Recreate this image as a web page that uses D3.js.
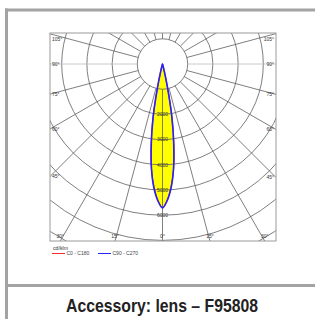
<!DOCTYPE html>
<html>
<head>
<meta charset="utf-8">
<script src="https://cdn.jsdelivr.net/npm/d3@7"></script>
<style>
  body { margin: 0; background: #fff; }
  text { font-family: "Liberation Sans", Arial, sans-serif; }
</style>
</head>
<body>
<svg id="chart" width="315" height="319"></svg>
<script>
// luminous intensity in cd/klm (gamma 0 = straight down)
var gammaAngles = [0, 2, 4, 6, 8, 10, 12, 14, 16, 18];
var c0c180  = [5700, 5400, 4880, 4200, 3250, 2200, 1000, 300, 60, 0];
var c90c270 = [5710, 5420, 4920, 4180, 3200, 2150, 950, 270, 50, 0];

var ringValues  = [1000, 2000, 3000, 4000, 5000, 6000, 7000, 8000, 9000];
var ringLabels  = [2000, 3000, 4000, 5000, 6000];
var spokeAngles = [0, 15, 30, 45, 60, 75, 90, 105, 120, 135, 150, 165, 180];
var angleLabels = [0, 15, 30, 45, 60, 75, 90, 105];
var seriesNames  = ["C0 - C180", "C90 - C270"];
var seriesColors = ["#ff2a2a", "#2323ff"];
var unitLabel = "cd/klm";
var caption = "Accessory: lens \u2013 F95808";

var svg = d3.select("#chart");

// outer box of the card
svg.append("line").attr("x1", 5).attr("x2", 315).attr("y1", 10).attr("y2", 10)
  .attr("stroke", "#a3a3a3").attr("stroke-width", 3);
svg.append("line").attr("x1", 6.5).attr("x2", 6.5).attr("y1", 8.5).attr("y2", 319)
  .attr("stroke", "#a3a3a3").attr("stroke-width", 3);
svg.append("line").attr("x1", 5).attr("x2", 315).attr("y1", 285.5).attr("y2", 285.5)
  .attr("stroke", "#a3a3a3").attr("stroke-width", 3);

// plot frame
var fx0 = 50, fy0 = 33, fx1 = 276, fy1 = 241;
var cx = 162.5, cy = 64;
var r = d3.scaleLinear().domain([0, 1000]).range([0, 25.2]);

svg.append("clipPath").attr("id", "frameClip")
  .append("rect").attr("x", fx0).attr("y", fy0).attr("width", fx1 - fx0).attr("height", fy1 - fy0);

var plot = svg.append("g").attr("clip-path", "url(#frameClip)");
var centre = plot.append("g").attr("transform", "translate(" + cx + "," + cy + ")");

var rad = Math.PI / 180;

// build a closed outline: left half (side -1) then right half (side +1)
function outline(values) {
  var pts = [];
  for (var i = gammaAngles.length - 1; i >= 0; i--) {
    pts.push([Math.PI + gammaAngles[i] * rad, r(values[i])]);
  }
  for (var j = 1; j < gammaAngles.length - 1; j++) {
    pts.push([Math.PI - gammaAngles[j] * rad, r(values[j])]);
  }
  return pts;
}

var radial = d3.lineRadial()
  .angle(function (d) { return d[0]; })
  .radius(function (d) { return d[1]; })
  .curve(d3.curveCatmullRomClosed.alpha(0.5));

var series = [c0c180, c90c270];

// yellow fill first, grid over it
series.forEach(function (s) {
  centre.append("path").attr("d", radial(outline(s)))
    .attr("fill", "#ffff00").attr("stroke", "none");
});

// rings
centre.selectAll("circle.ring").data(ringValues).enter().append("circle")
  .attr("class", "ring")
  .attr("r", function (d) { return r(d); })
  .attr("fill", "none").attr("stroke", "#5e5e5e").attr("stroke-width", 0.8);

// spokes on both sides
var spokes = [];
spokeAngles.forEach(function (a) {
  spokes.push({ a: a, s: -1 });
  if (a !== 0 && a !== 180) spokes.push({ a: a, s: 1 });
});
centre.selectAll("line.spoke").data(spokes).enter().append("line")
  .attr("class", "spoke")
  .attr("x1", function (d) { return d.s * r(1000) * Math.sin(d.a * rad); })
  .attr("y1", function (d) { return r(1000) * Math.cos(d.a * rad); })
  .attr("x2", function (d) { return d.s * r(10000) * Math.sin(d.a * rad); })
  .attr("y2", function (d) { return r(10000) * Math.cos(d.a * rad); })
  .attr("stroke", function (d) { return d.a === 90 ? "#bdbdbd" : "#5e5e5e"; })
  .attr("stroke-width", 0.8);

// curve outlines
series.forEach(function (s, i) {
  centre.append("path").attr("d", radial(outline(s)))
    .attr("fill", "none").attr("stroke", seriesColors[i])
    .attr("stroke-width", i === 0 ? 1.2 : 1.6);
});

// ring value labels down the 0 deg axis
centre.selectAll("text.rl").data(ringLabels).enter().append("text")
  .attr("x", 0).attr("y", function (d) { return r(d) + 1.7; })
  .attr("text-anchor", "middle").attr("font-size", 5).attr("fill", "#333")
  .text(function (d) { return d; });

// frame border
svg.append("rect").attr("x", fx0).attr("y", fy0).attr("width", fx1 - fx0).attr("height", fy1 - fy0)
  .attr("fill", "none").attr("stroke", "#9a9a9a").attr("stroke-width", 1);

// angle labels where spokes meet the frame
var labelData = [];
angleLabels.forEach(function (a) {
  labelData.push({ a: a, s: -1 });
  if (a !== 0) labelData.push({ a: a, s: 1 });
});
labelData.forEach(function (d) {
  var dx = d.s * Math.sin(d.a * rad), dy = Math.cos(d.a * rad);
  var tSide = Math.abs(dx) > 1e-6 ? ((dx < 0 ? fx0 : fx1) - cx) / dx : Infinity;
  var tBot = dy > 1e-6 ? (fy1 - cy) / dy : Infinity;
  var tTop = dy < -1e-6 ? (fy0 - cy) / dy : Infinity;
  var t = Math.min(tSide, tBot, tTop);
  var x, y, anchor;
  if (t === tSide) {
    x = dx < 0 ? fx0 + 2 : fx1 - 2;
    y = Math.max(cy + t * dy, fy0 + 6) + 1.7;
    anchor = dx < 0 ? "start" : "end";
  } else {
    x = cx + t * dx;
    x = Math.max(fx0 + 8, Math.min(fx1 - 8, x));
    y = fy1 - 3;
    anchor = "middle";
  }
  svg.append("text").attr("x", x).attr("y", y).attr("text-anchor", anchor)
    .attr("font-size", 5).attr("fill", "#333").text(d.a + "\u00b0");
});

// legend
svg.append("text").attr("x", 53).attr("y", 249.5).attr("font-size", 5.2).attr("fill", "#333").text(unitLabel);
var legendX = [52, 98];
seriesNames.forEach(function (n, i) {
  svg.append("line").attr("x1", legendX[i]).attr("x2", legendX[i] + 13)
    .attr("y1", 253.5).attr("y2", 253.5).attr("stroke", seriesColors[i]).attr("stroke-width", 1);
  svg.append("text").attr("x", legendX[i] + 14.5).attr("y", 255.3)
    .attr("font-size", 5).attr("fill", "#444").text(n);
});

// caption
svg.append("text").attr("x", 162).attr("y", 312)
  .attr("text-anchor", "middle").attr("font-size", 18.5).attr("font-weight", "bold")
  .style("font-family", "'Liberation Sans Narrow', 'Liberation Sans', Arial, sans-serif")
  .attr("fill", "#222")
  .attr("textLength", 192).attr("lengthAdjust", "spacingAndGlyphs")
  .text(caption);
</script>
</body>
</html>
